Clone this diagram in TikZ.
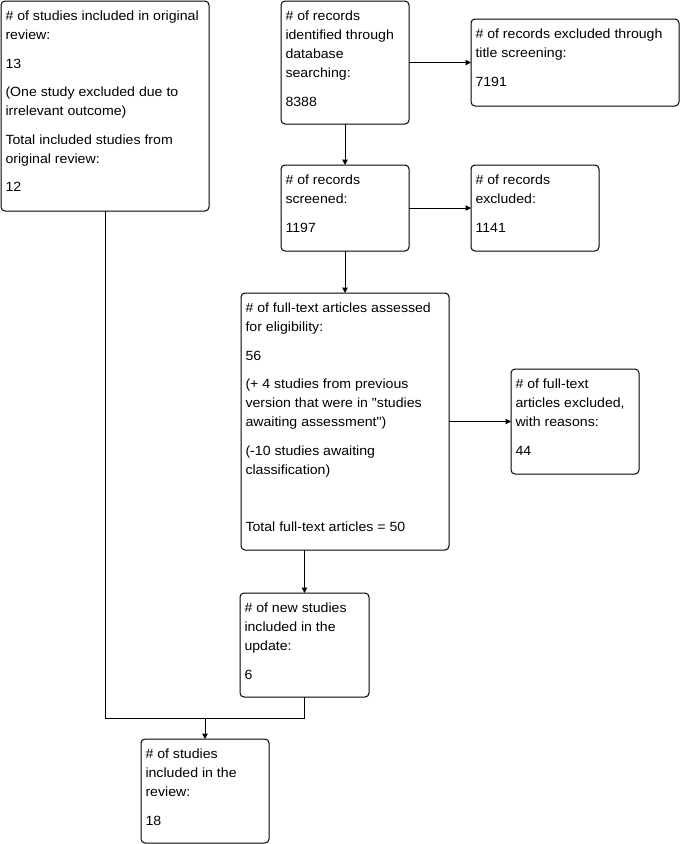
\documentclass[tikz,border=0pt]{standalone}
\usepackage{fontspec}
\setmainfont{Liberation Sans}[FakeStretch=1.06, Ligatures=TeXOff]
\usetikzlibrary{arrows.meta,fit,calc}
\tikzset{
  box/.style={draw, line width=0.75pt, rounded corners=3pt, inner sep=0pt, outer sep=0pt},
  txt/.style={anchor=north west, align=left, inner sep=0pt, outer sep=0pt,
    font=\fontsize{10}{14.25}\selectfont, execute at begin node={\rule{0pt}{8pt}}},
  conn/.style={line width=0.75pt},
  arr/.style={line width=0.75pt, -{Triangle[length=4pt,width=4pt]}},
}
\newcommand{\pg}{\\[7.1pt]}
\begin{document}
\begin{tikzpicture}[x=0.75pt,y=-0.75pt]
\fill[white] (0,0) rectangle (681,844);
\useasboundingbox (0,0) rectangle (681,844);

\node[box, fit={(1,1) (209,211)}] (A) {};
\node[box, fit={(281,1) (409,124)}] (B) {};
\node[box, fit={(471,19) (679,106)}] (C) {};
\node[box, fit={(281,165) (409,251)}] (D) {};
\node[box, fit={(471,165) (599,251)}] (E) {};
\node[box, fit={(241,293) (449,550)}] (F) {};
\node[box, fit={(511,369) (639,474)}] (G) {};
\node[box, fit={(240,593) (369,697)}] (H) {};
\node[box, fit={(141,739) (269,843)}] (I) {};

\node[txt] (At) at ([shift={(4.5,10.2)}]A.north west) {\# of studies included in original\\review:\pg 13\pg (One study excluded due to\\irrelevant outcome)\pg Total included studies from\\original review:\pg 12};
\node[txt] (Bt) at ([shift={(4.5,10.2)}]B.north west) {\# of records\\identified through\\database\\searching:\pg 8388};
\node[txt] (Ct) at ([shift={(4.5,10.2)}]C.north west) {\# of records excluded through\\title screening:\pg 7191};
\node[txt] (Dt) at ([shift={(4.5,10.2)}]D.north west) {\# of records\\screened:\pg 1197};
\node[txt] (Et) at ([shift={(4.5,10.2)}]E.north west) {\# of records\\excluded:\pg 1141};
\node[txt] (Ft) at ([shift={(4.5,10.2)}]F.north west) {\# of full-text articles assessed\\for eligibility:\pg 56\pg (+ 4 studies from previous\\version that were in "studies\\awaiting assessment")\pg (-10 studies awaiting\\classification)\pg \mbox{}\pg Total full-text articles = 50};
\node[txt] (Gt) at ([shift={(4.5,10.2)}]G.north west) {\# of full-text\\articles excluded,\\with reasons:\pg 44};
\node[txt] (Ht) at ([shift={(4.5,10.2)}]H.north west) {\# of new studies\\included in the\\update:\pg 6};
\node[txt] (It) at ([shift={(4.5,10.2)}]I.north west) {\# of studies\\included in the\\review:\pg 18};

\draw[arr] (B.east) -- (B.east -| C.west);
\draw[arr] (B.south) -- (D.north);
\draw[arr] (D.east) -- (E.west);
\draw[arr] (D.south) -- (D.south |- F.north);
\draw[arr] (F.east) -- (G.west);
\draw[arr] (H.north |- F.south) -- (H.north);
\coordinate (J) at (205,718);
\draw[conn] (A.south) |- (H.south |- J) -- (H.south);
\draw[arr] (J) -- (I.north);
\end{tikzpicture}
\end{document}
